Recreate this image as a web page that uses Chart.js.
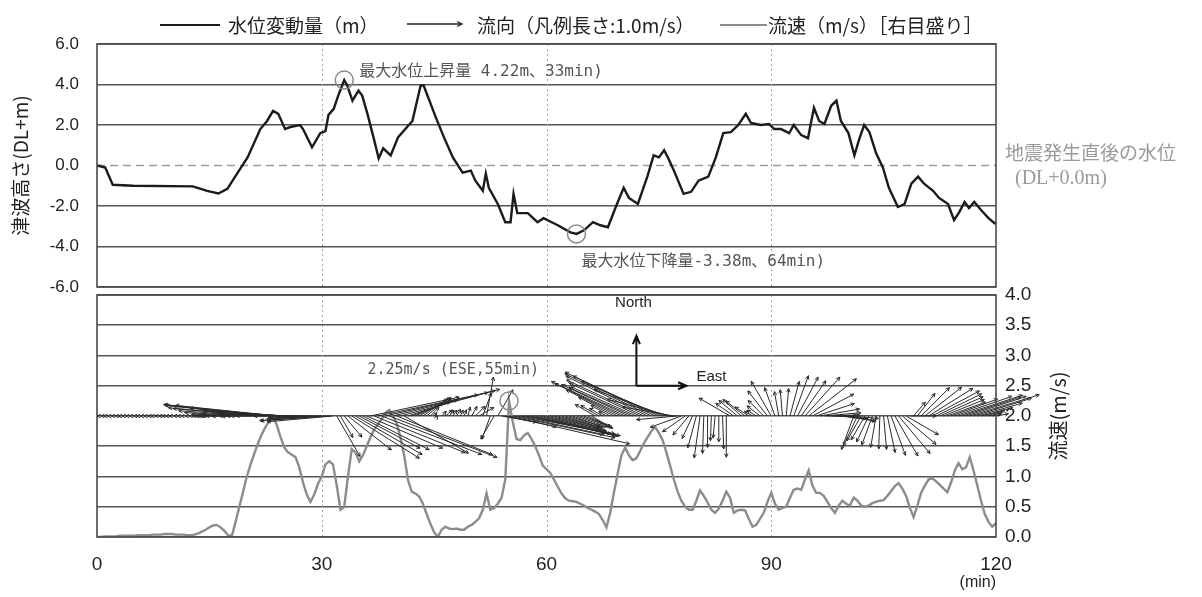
<!DOCTYPE html>
<html>
<head>
<meta charset="utf-8">
<script src="https://cdn.jsdelivr.net/npm/chart.js@4.4.1/dist/chart.umd.min.js"></script>
<style>
  html, body { margin: 0; padding: 0; background: #fff; }
  #wrap { position: relative; width: 1202px; height: 597px; overflow: hidden; }
  canvas { position: absolute; left: 0; }
  #levelChart { top: 0; }
  #speedChart { top: 280px; }
  #legend { position: absolute; left: 0; top: 0; width: 1202px; height: 40px; z-index: 2;
            font-family: "Noto Sans CJK JP", sans-serif; font-size: 19px; color: #222; }
  #legend .label { position: absolute; top: 12px; line-height: 26px; white-space: nowrap; }
  #legend .swatch { position: absolute; top: 24px; height: 0; }
  #legend svg { position: absolute; top: 19px; }
</style>
</head>
<body>
<div id="wrap">
  <div id="legend">
    <span class="swatch" style="left:160px;width:60px;border-top:2px solid #1b1b1b"></span>
    <span class="label" style="left:228px">水位変動量（m）</span>
    <svg id="arrowKey" style="left:407px" height="12"></svg>
    <span class="label" style="left:477px">流向（凡例長さ:1.0m/s）</span>
    <span class="swatch" style="left:720px;width:47px;border-top:2.5px solid #8c8c8c"></span>
    <span class="label" style="left:768px">流速（m/s）［右目盛り］</span>
  </div>
  <canvas id="levelChart" width="1202" height="300"></canvas>
  <canvas id="speedChart" width="1202" height="317"></canvas>
</div>
<script>
// 水位変動量 (m) against minutes after the earthquake
const levelTime = [
  0, 1.1, 2.1, 4.8, 12.8, 14.7, 16.2, 17.4, 18.7, 20.1,
  21.8, 22.7, 23.5, 24.2, 25.1, 25.8, 27.1, 27.5, 28.7, 29.8,
  30.5, 30.9, 31.6, 32.2, 33, 33.4, 34.1, 34.9, 35.4, 36.1,
  36.9, 37.6, 38.2, 39.2, 40.2, 42.1, 43.2, 43.6, 45.2, 46.3,
  47.5, 48.8, 49.9, 50.5, 51.5, 51.9, 52.3, 53.5, 54.5, 55.2,
  55.6, 56.1, 57.5, 58.8, 59.6, 61.5, 63.2, 64, 65, 66.2,
  67.2, 68.2, 69.3, 70.3, 71, 72.2, 73.5, 74.3, 75, 75.7,
  76.2, 77, 78.3, 79.3, 80.3, 81.6, 82.6, 83.6, 84.6, 85.6,
  86.6, 87.3, 88.6, 89.7, 90.4, 91.3, 92.4, 93, 94, 94.9,
  95.7, 96.4, 97.1, 98, 98.7, 99.3, 100.3, 101.1, 101.7, 102.4,
  103.1, 104, 104.9, 105.7, 106.9, 107.8, 108.7, 109.6, 110.4, 111.6,
  112.4, 113.6, 114.4, 115.1, 115.8, 116.4, 117.1, 118, 119, 119.8,
  120
];
const levelValue = [
  0, -0.1, -0.95, -1.0, -1.03, -1.25, -1.38, -1.15, -0.4, 0.4,
  1.8, 2.2, 2.7, 2.55, 1.8, 1.9, 2.0, 1.8, 0.9, 1.6,
  1.7, 2.5, 2.8, 3.45, 4.22, 3.95, 3.2, 3.7, 3.45, 2.55,
  1.4, 0.35, 0.85, 0.5, 1.4, 2.2, 3.95, 3.95, 2.4, 1.4,
  0.4, -0.35, -0.25, -0.75, -1.25, -0.4, -1.1, -1.9, -2.8, -2.8,
  -1.4, -2.35, -2.35, -2.8, -2.6, -2.95, -3.3, -3.38, -3.2, -2.8,
  -2.95, -3.05, -2.0, -1.1, -1.6, -1.9, -0.5, 0.5, 0.4, 0.75,
  0.4, -0.25, -1.4, -1.3, -0.75, -0.55, 0.4, 1.6, 1.65, 2.0,
  2.55, 2.1, 2.0, 2.05, 1.8, 1.8, 1.6, 2.0, 1.5, 1.35,
  2.85, 2.2, 2.05, 2.95, 3.2, 2.2, 1.6, 0.5, 1.25, 2.0,
  1.65, 0.6, -0.1, -1.1, -2.05, -1.9, -0.9, -0.55, -0.9, -1.25,
  -1.6, -1.9, -2.7, -2.3, -1.8, -2.1, -1.8, -2.2, -2.6, -2.85,
  -2.8
];

// 流速 (m/s) and 流向 (degrees clockwise from north), one sample every 30 s
const SAMPLE_STEP = 0.5;
const speedValue = [
  0.00, 0.00, 0.01, 0.01, 0.01, 0.01, 0.02, 0.02, 0.02, 0.02,
  0.02, 0.03, 0.03, 0.03, 0.03, 0.04, 0.04, 0.04, 0.05, 0.05,
  0.05, 0.04, 0.04, 0.04, 0.03, 0.03, 0.04, 0.06, 0.09, 0.12,
  0.16, 0.19, 0.20, 0.16, 0.10, 0.03, 0.02, 0.25, 0.50, 0.75,
  1.00, 1.20, 1.38, 1.55, 1.70, 1.82, 1.92, 2.00, 1.85, 1.65,
  1.48, 1.40, 1.36, 1.32, 1.15, 0.90, 0.70, 0.58, 0.70, 0.88,
  1.00, 1.20, 1.25, 1.20, 0.85, 0.45, 0.50, 1.00, 1.45, 1.40,
  1.25, 1.35, 1.50, 1.65, 1.78, 1.86, 1.95, 2.05, 2.10, 2.00,
  1.88, 1.65, 1.35, 0.95, 0.75, 0.72, 0.67, 0.55, 0.38, 0.22,
  0.08, 0.00, 0.12, 0.17, 0.14, 0.13, 0.14, 0.12, 0.12, 0.17,
  0.20, 0.25, 0.31, 0.45, 0.72, 0.45, 0.48, 0.55, 0.65, 0.95,
  2.25, 1.90, 1.62, 1.60, 1.68, 1.72, 1.62, 1.50, 1.35, 1.18,
  1.12, 1.06, 0.95, 0.83, 0.72, 0.64, 0.60, 0.59, 0.58, 0.55,
  0.52, 0.48, 0.45, 0.42, 0.38, 0.28, 0.16, 0.40, 0.73, 1.05,
  1.35, 1.48, 1.35, 1.27, 1.30, 1.42, 1.55, 1.65, 1.75, 1.82,
  1.72, 1.60, 1.40, 1.18, 0.95, 0.75, 0.60, 0.50, 0.45, 0.45,
  0.60, 0.77, 0.68, 0.57, 0.45, 0.40, 0.47, 0.60, 0.75, 0.65,
  0.40, 0.44, 0.45, 0.44, 0.30, 0.17, 0.20, 0.30, 0.40, 0.58,
  0.73, 0.55, 0.45, 0.48, 0.50, 0.65, 0.78, 0.80, 0.78, 0.95,
  1.10, 0.85, 0.73, 0.73, 0.68, 0.58, 0.48, 0.40, 0.52, 0.60,
  0.55, 0.52, 0.65, 0.60, 0.52, 0.50, 0.52, 0.56, 0.58, 0.60,
  0.61, 0.68, 0.76, 0.84, 0.89, 0.80, 0.68, 0.48, 0.33, 0.52,
  0.73, 0.85, 0.95, 0.97, 0.92, 0.86, 0.80, 0.74, 0.90, 1.10,
  1.22, 1.12, 1.15, 1.32, 1.10, 0.85, 0.60, 0.38, 0.25, 0.17,
  0.23
];
const flowDir = [
  270, 270, 270, 270, 270, 270, 270, 270, 270, 270,
  270, 270, 270, 270, 270, 270, 270, 270, 270, 270,
  270, 270, 270, 270, 270, 270, 270, 270, 270, 270,
  270, 270, 270, 270, 270, 270, 268, 268, 270, 271,
  272, 273, 274, 275, 275, 276, 276, 276, 276, 275,
  274, 273, 272, 271, 270, 270, 268, 268, 268, 267,
  267, 266, 266, 265, 150, 150, 140, 128, 122, 120,
  118, 117, 113, 78, 112, 78, 111, 77, 111, 76,
  112, 75, 120, 72, 70, 65, 60, 55, 50, 45,
  40, 40, 45, 50, 40, 35, 30, 25, 20, 15,
  30, 45, 60, 20, 10, 200, 210, 30, 100, 102,
  103, 102, 102, 101, 101, 102, 103, 104, 104, 105,
  105, 105, 106, 106, 107, 108, 108, 110, 110, 110,
  112, 115, 120, 300, 300, 300, 300, 299, 298, 297,
  296, 295, 295, 294, 294, 295, 295, 296, 296, 296,
  295, 293, 290, 285, 280, 265, 250, 235, 220, 205,
  195, 188, 182, 180, 182, 185, 180, 178, 180, 300,
  305, 310, 312, 308, 303, 300, 302, 308, 315, 322,
  330, 340, 350, 355, 5, 15, 20, 28, 35, 42,
  52, 62, 72, 80, 85, 88, 90, 92, 95, 98,
  100, 95, 200, 205, 210, 210, 205, 200, 190, 182,
  175, 168, 160, 150, 140, 130, 120, 90, 40, 38,
  45, 52, 58, 62, 64, 66, 68, 70, 70, 71,
  72, 72, 72, 73, 73, 74, 75, 75, 76, 78,
  80
];

const xTicks = [0, 30, 60, 90, 120];
const ARROW_BASE = 2.0;   // arrows start on the 2.0 m/s line
const ARROW_PX = 55;      // arrow length of 1.0 m/s, same as the legend key
const COMPASS_AT = { t: 72, v: 2.5 };
const COMPASS_PX = 50;

const speedTime = speedValue.map((_, i) => i * SAMPLE_STEP);

Chart.defaults.font.family = '"Liberation Sans", Arial, sans-serif';
Chart.defaults.color = '#222';

const GRID = '#555';
const LABEL_FONT = '"DejaVu Sans Mono", "Noto Sans CJK JP", monospace';
const JP_FONT = '"Noto Sans CJK JP", sans-serif';

function drawArrow(ctx, x0, y0, x1, y1, ang, head, spread) {
  ctx.beginPath();
  ctx.moveTo(x0, y0);
  ctx.lineTo(x1, y1);
  ctx.moveTo(x1 - head * Math.cos(ang - spread), y1 - head * Math.sin(ang - spread));
  ctx.lineTo(x1, y1);
  ctx.lineTo(x1 - head * Math.cos(ang + spread), y1 - head * Math.sin(ang + spread));
  ctx.stroke();
}

function dottedVerticals(chart) {
  const { ctx, chartArea: a, scales: { x } } = chart;
  ctx.save();
  ctx.strokeStyle = '#a5a5a5';
  ctx.lineWidth = 1;
  ctx.setLineDash([2, 3]);
  xTicks.slice(1, -1).forEach((t) => {
    const px = Math.round(x.getPixelForValue(t)) + 0.5;
    ctx.beginPath();
    ctx.moveTo(px, a.top);
    ctx.lineTo(px, a.bottom);
    ctx.stroke();
  });
  ctx.restore();
}

function frame(chart) {
  const { ctx, chartArea: a } = chart;
  ctx.save();
  ctx.strokeStyle = '#4a4a4a';
  ctx.lineWidth = 1.6;
  ctx.strokeRect(a.left, a.top, a.right - a.left, a.bottom - a.top);
  ctx.restore();
}

function vText(ctx, text, x, y, font) {
  ctx.save();
  ctx.translate(x, y);
  ctx.rotate(-Math.PI / 2);
  ctx.font = font;
  ctx.textAlign = 'center';
  ctx.textBaseline = 'middle';
  ctx.fillText(text, 0, 0);
  ctx.restore();
}

function compassName(deg) {
  const names = ['N', 'NNE', 'NE', 'ENE', 'E', 'ESE', 'SE', 'SSE',
                 'S', 'SSW', 'SW', 'WSW', 'W', 'WNW', 'NW', 'NNW'];
  return names[Math.round(deg / 22.5) % 16];
}

// shift the layout padding until the plot area sits where the panel frame belongs
function placeArea(chart, top, bottom) {
  for (let k = 0; k < 3; k++) {
    const a = chart.chartArea;
    const p = chart.options.layout.padding;
    const dt = top - a.top, db = a.bottom - bottom;
    if (Math.abs(dt) < 0.5 && Math.abs(db) < 0.5) break;
    p.top += dt;
    p.bottom += db;
    chart.update();
  }
}

// --- 水位変動量 panel ---
const levelDecor = {
  id: 'levelDecor',
  beforeDatasetsDraw: dottedVerticals,
  afterDatasetsDraw(chart) {
    const { ctx, chartArea: a, scales: { x, y } } = chart;
    frame(chart);

    // largest rise and fall
    const iMax = levelValue.indexOf(Math.max(...levelValue));
    const iMin = levelValue.indexOf(Math.min(...levelValue));
    const pMax = { x: x.getPixelForValue(levelTime[iMax]), y: y.getPixelForValue(levelValue[iMax]) };
    const pMin = { x: x.getPixelForValue(levelTime[iMin]), y: y.getPixelForValue(levelValue[iMin]) };

    ctx.save();
    ctx.strokeStyle = '#8a8a8a';
    ctx.lineWidth = 1.5;
    [pMax, pMin].forEach((p) => {
      ctx.beginPath();
      ctx.arc(p.x, p.y, 9, 0, Math.PI * 2);
      ctx.stroke();
    });
    ctx.fillStyle = '#555';
    ctx.font = '16px ' + LABEL_FONT;
    ctx.textBaseline = 'middle';
    ctx.fillText(`最大水位上昇量 ${levelValue[iMax].toFixed(2)}m、${levelTime[iMax]}min)`, pMax.x + 15, pMax.y - 8);
    ctx.fillText(`最大水位下降量${levelValue[iMin].toFixed(2)}m、${levelTime[iMin]}min)`, pMin.x + 5, pMin.y + 28);

    // note on the DL+0.0m reference line
    const y0 = y.getPixelForValue(0);
    ctx.fillStyle = '#9a9a9a';
    ctx.font = '19px ' + JP_FONT;
    ctx.fillText('地震発生直後の水位', a.right + 9, y0 - 13);
    ctx.font = '20px "Liberation Serif", serif';
    ctx.fillText('(DL+0.0m)', a.right + 19, y0 + 13);

    ctx.fillStyle = '#222';
    vText(ctx, '津波高さ(DL+m)', a.left - 76, (a.top + a.bottom) / 2, '19px ' + JP_FONT);
    ctx.restore();
  }
};

const levelChart = new Chart(document.getElementById('levelChart'), {
  type: 'line',
  data: {
    datasets: [
      {
        data: levelTime.map((t, i) => ({ x: t, y: levelValue[i] })),
        borderColor: '#1b1b1b',
        borderWidth: 2.4,
        pointRadius: 0,
        order: 1
      },
      {
        // DL+0.0m reference
        data: [{ x: xTicks[0], y: 0 }, { x: xTicks[xTicks.length - 1], y: 0 }],
        borderColor: '#9a9a9a',
        borderWidth: 1.3,
        borderDash: [8, 5],
        pointRadius: 0,
        order: 2
      }
    ]
  },
  options: {
    responsive: false,
    animation: false,
    layout: { autoPadding: false, padding: { left: 0, right: 206, top: 44, bottom: 13 } },
    plugins: { legend: { display: false }, tooltip: { enabled: false } },
    scales: {
      x: { type: 'linear', min: 0, max: 120, display: false },
      y: {
        min: -6, max: 6,
        // label gap comes from an invisible tick mark so it does not pad the plot height
        ticks: { stepSize: 2, padding: 0, font: { size: 17 }, color: '#222',
                 callback: (v) => v.toFixed(1) },
        grid: { color: (c) => (c.tick && c.tick.value === 0 ? 'rgba(0,0,0,0)' : GRID),
                lineWidth: 1.6, drawTicks: true, tickLength: 18, tickColor: 'rgba(0,0,0,0)' },
        border: { display: false },
        afterFit: (s) => { s.width = 97; }
      }
    }
  },
  plugins: [levelDecor]
});
placeArea(levelChart, 44, 287);

// --- 流速 / 流向 panel ---
const speedDecor = {
  id: 'speedDecor',
  beforeDatasetsDraw: dottedVerticals,
  afterDatasetsDraw(chart) {
    const { ctx, chartArea: a, scales: { x, y } } = chart;

    // flow vectors from the 2.0 m/s line
    const yb = y.getPixelForValue(ARROW_BASE);
    ctx.save();
    ctx.strokeStyle = '#2a2a2a';
    ctx.lineWidth = 1;
    speedValue.forEach((v, i) => {
      const r = flowDir[i] * Math.PI / 180;
      const ux = Math.sin(r), uy = -Math.cos(r);
      const x0 = x.getPixelForValue(speedTime[i]);
      drawArrow(ctx, x0, yb, x0 + v * ARROW_PX * ux, yb + v * ARROW_PX * uy,
                Math.atan2(uy, ux), 4, 0.45);
    });
    ctx.restore();

    frame(chart);

    // peak speed
    const iPeak = speedValue.indexOf(Math.max(...speedValue));
    const px = x.getPixelForValue(speedTime[iPeak]);
    const py = y.getPixelForValue(speedValue[iPeak]);
    ctx.save();
    ctx.strokeStyle = '#8a8a8a';
    ctx.lineWidth = 1.5;
    ctx.beginPath();
    ctx.arc(px, py, 9, 0, Math.PI * 2);
    ctx.stroke();
    ctx.fillStyle = '#555';
    ctx.font = '15px ' + LABEL_FONT;
    ctx.textAlign = 'right';
    ctx.textBaseline = 'middle';
    ctx.fillText(`${speedValue[iPeak].toFixed(2)}m/s (${compassName(flowDir[iPeak])},${speedTime[iPeak]}min)`,
                 px + 30, py - 31);

    // compass key
    const cx = x.getPixelForValue(COMPASS_AT.t);
    const cy = y.getPixelForValue(COMPASS_AT.v);
    ctx.strokeStyle = '#111';
    ctx.lineWidth = 2;
    drawArrow(ctx, cx, cy, cx, cy - COMPASS_PX, -Math.PI / 2, 9, 0.4);
    drawArrow(ctx, cx, cy, cx + COMPASS_PX, cy, 0, 9, 0.4);
    ctx.fillStyle = '#222';
    ctx.font = '15px "Liberation Sans", Arial, sans-serif';
    ctx.textAlign = 'center';
    ctx.fillText('North', cx - 3, cy - 83);
    ctx.textAlign = 'left';
    ctx.fillText('East', cx + COMPASS_PX + 10, cy - 9);

    vText(ctx, '流速(m/s)', a.right + 62, (a.top + a.bottom) / 2, '20px ' + JP_FONT);
    ctx.restore();
  }
};

const speedChart = new Chart(document.getElementById('speedChart'), {
  type: 'line',
  data: {
    datasets: [{
      data: speedTime.map((t, i) => ({ x: t, y: speedValue[i] })),
      borderColor: '#8c8c8c',
      borderWidth: 2.4,
      pointRadius: 0
    }]
  },
  options: {
    responsive: false,
    animation: false,
    layout: { autoPadding: false, padding: { left: 97, right: 0, top: 15, bottom: 0 } },
    plugins: { legend: { display: false }, tooltip: { enabled: false } },
    scales: {
      x: {
        type: 'linear', min: 0, max: 120,
        afterBuildTicks: (s) => { s.ticks = xTicks.map((v) => ({ value: v })); },
        ticks: { padding: 8, font: { size: 19 }, color: '#222', maxRotation: 0 },
        grid: { display: false },
        border: { display: false },
        title: { display: true, text: '(min)', align: 'end', color: '#222',
                 font: { size: 16 }, padding: { top: 0, bottom: 5 } },
        afterFit: (s) => { s.height = 60; }
      },
      y: {
        position: 'right',
        min: 0, max: 4,
        ticks: { stepSize: 0.5, padding: 0, font: { size: 19 }, color: '#222',
                 callback: (v) => v.toFixed(1) },
        grid: { color: GRID, lineWidth: 1.6, drawTicks: true, tickLength: 9, tickColor: 'rgba(0,0,0,0)' },
        border: { display: false },
        afterFit: (s) => { s.width = 206; }
      }
    }
  },
  plugins: [speedDecor]
});
placeArea(speedChart, 15, 257);

// legend key arrow, drawn at the 1.0 m/s length
(function () {
  const svg = document.getElementById('arrowKey');
  svg.setAttribute('width', ARROW_PX + 2);
  svg.innerHTML =
    `<line x1="0" y1="5" x2="${ARROW_PX}" y2="5" stroke="#222" stroke-width="1.3"/>` +
    `<polyline points="${ARROW_PX - 5},2.5 ${ARROW_PX},5 ${ARROW_PX - 5},7.5" fill="none" stroke="#222" stroke-width="1.3"/>`;
})();
</script>
</body>
</html>
